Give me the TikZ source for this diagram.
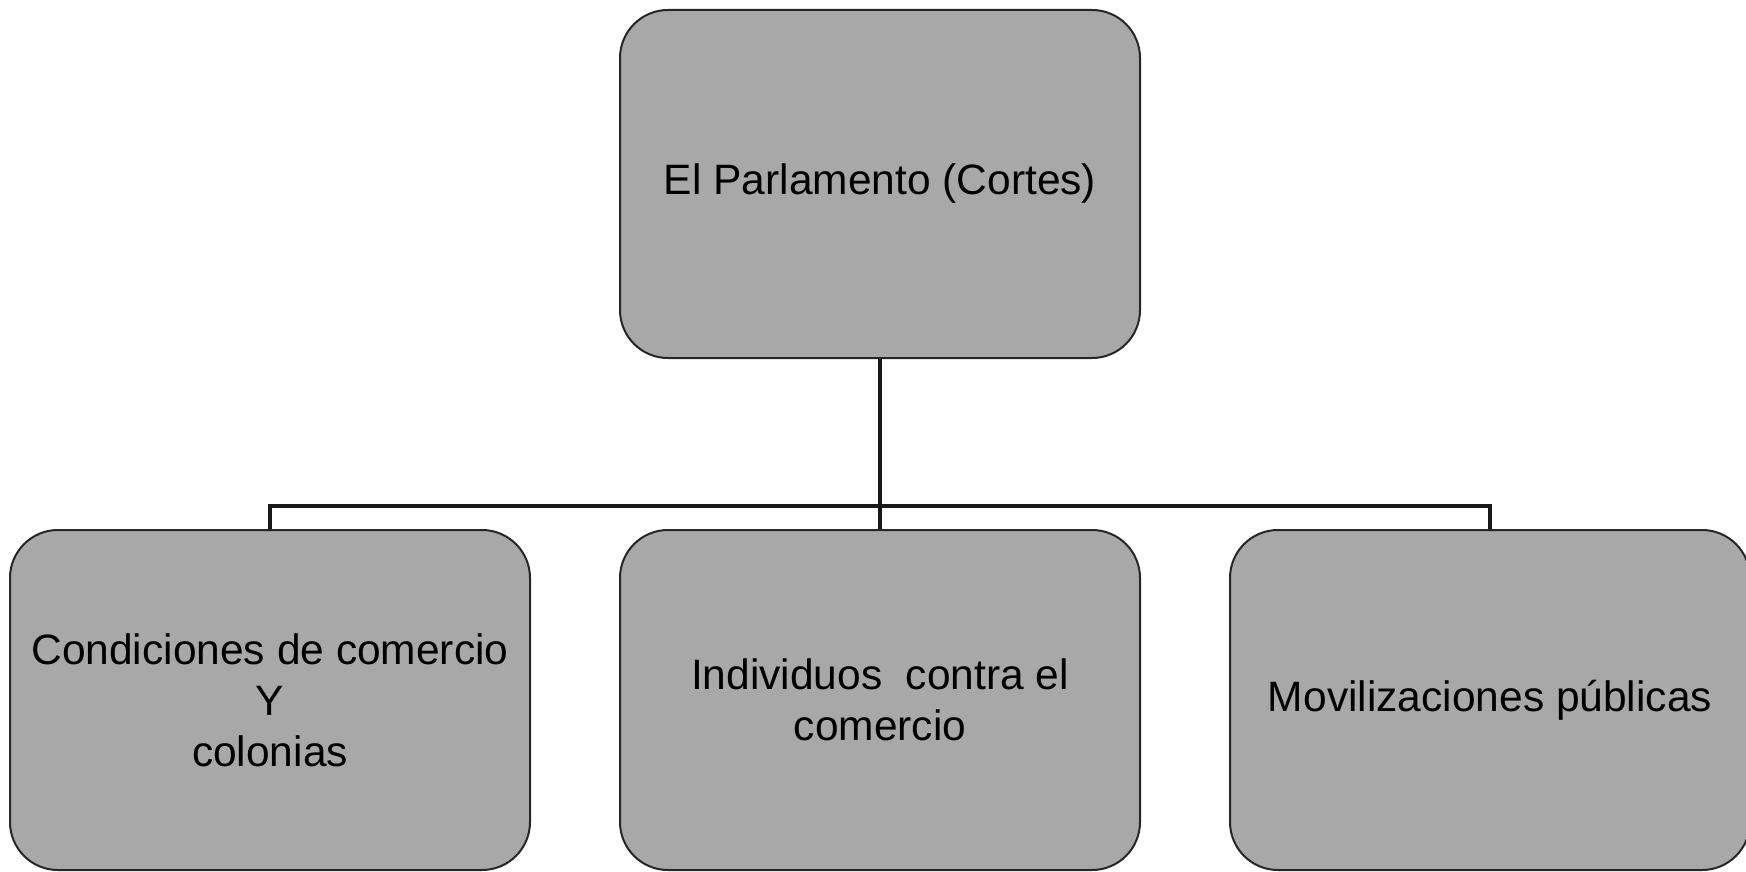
\documentclass[tikz,border=0pt]{standalone}
\usepackage{fontspec}
\setmainfont{Liberation Sans}
\usetikzlibrary{positioning}
\definecolor{boxgray}{RGB}{168,168,168}
\tikzset{
	node distance=44pt,
	box/.style={draw=black!85, line width=1pt, fill=boxgray, rounded corners=24pt,
		minimum width=260pt, minimum height=172pt, align=center,
		font=\fontsize{21.25pt}{25.5pt}\selectfont},
	link/.style={line width=2pt, black!90},
}
\begin{document}
\begin{tikzpicture}
	\useasboundingbox (0pt,0pt) rectangle (873pt,-436pt);
	\node[box, minimum height=174pt] (parl) at (440pt,-92pt) {El Parlamento (Cortes)};
	\node[box, below=85pt of parl, minimum height=170pt] (indiv) {Individuos\ \ contra el\\comercio};
	\node[box, left=of indiv, minimum height=170pt] (cond) {Condiciones de comercio\\Y\\colonias};
	\node[box, right=of indiv, minimum height=170pt] (movil) {Movilizaciones públicas};
	% bus between the levels
	\coordinate (bus) at ([yshift=11.5pt]indiv.north);
	\draw[link] (parl.south) -- (indiv.north);
	\draw[link] (cond.north) |- (bus) -| (movil.north);
\end{tikzpicture}
\end{document}
